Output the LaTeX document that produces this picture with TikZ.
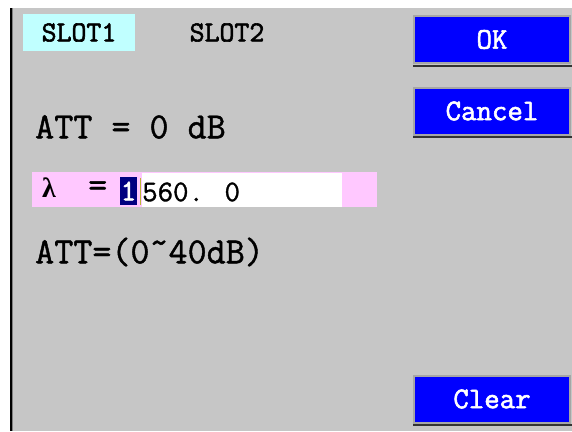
\documentclass[tikz,border=0pt]{standalone}
\usepackage{fontspec}
\newfontfamily\greekfont{Liberation Serif}
\newfontfamily\panelfont[FakeBold=1.2]{Latin Modern Mono}
\newfontfamily\keyfont[FakeBold=2]{Latin Modern Mono}
\usetikzlibrary{calc}

\definecolor{panelgray}{HTML}{C6C6C6}
\definecolor{btnblue}{HTML}{0000FF}
\definecolor{slotcyan}{HTML}{C0FFFF}
\definecolor{rowpink}{HTML}{FFC8FF}
\definecolor{cursornavy}{HTML}{000080}

\tikzset{
  lbl/.style={anchor=west, inner sep=0pt, font=\panelfont\bfseries\fontsize{37}{37}\selectfont},
  btn/.style={fill=btnblue, draw=gray!70, line width=2pt, minimum width=156pt, minimum height=47pt, text=white, font=\keyfont\bfseries\fontsize{30}{30}\selectfont},
}

\begin{document}
\begin{tikzpicture}[x=1pt, y=-1pt]
\useasboundingbox (0,0) rectangle (572,431);
\fill[white] (0,0) rectangle (572,431);
\fill[panelgray] (13,8) rectangle (572,431);
\fill[black] (9.5,8) rectangle (11.5,431);
\fill[gray] (11.5,8) rectangle (13,431);

% slot tabs
\node[fill=slotcyan, minimum width=112pt, minimum height=37pt, inner sep=0pt] (slota) at (79,32.5) {};
\node[font=\keyfont\bfseries\fontsize{29}{29}\selectfont] (slotatext) at (slota) {SLOT1};
\node[font=\keyfont\bfseries\fontsize{29}{29}\selectfont] (slotb) at (227,32.5) {SLOT2};

% buttons
\foreach \name/\txt/\y in {ok/OK/39.5, cancel/Cancel/111, clear/Clear/399} {
  \node[btn] (\name) at (492,\y) {\txt};
  \draw[black!80, line width=2pt] ($(\name.north east)+(1.5,0)$) |- ($(\name.south west)+(0,1.5)$);
}

\node[lbl] (att) at (35,127) {ATT = 0 dB};

% wavelength row
\fill[rowpink] (32,172) rectangle (377,207);
\fill[white] (142,173) rectangle (342,207);
\node[anchor=west, inner sep=0pt, font=\greekfont\bfseries\fontsize{28}{28}\selectfont] (lambda) at (42,188) {λ};
\node[lbl] (eq) at (88,189) {=};
\node[fill=cursornavy, text=white, minimum width=17pt, minimum height=28pt, inner sep=0pt, font=\keyfont\bfseries\fontsize{30}{30}\selectfont] (cursor) at (128.5,191) {1};
\draw[yellow!70!black, line width=1pt] ($(cursor.north east)+(3,1)$) -- ($(cursor.south east)+(3,0)$);
\node[lbl, font=\panelfont\bfseries\fontsize{30}{30}\selectfont] (value) at (142,192) {560. 0};

\node[lbl] (range) at (35,252) {ATT=(0˜40dB)};
\end{tikzpicture}
\end{document}
